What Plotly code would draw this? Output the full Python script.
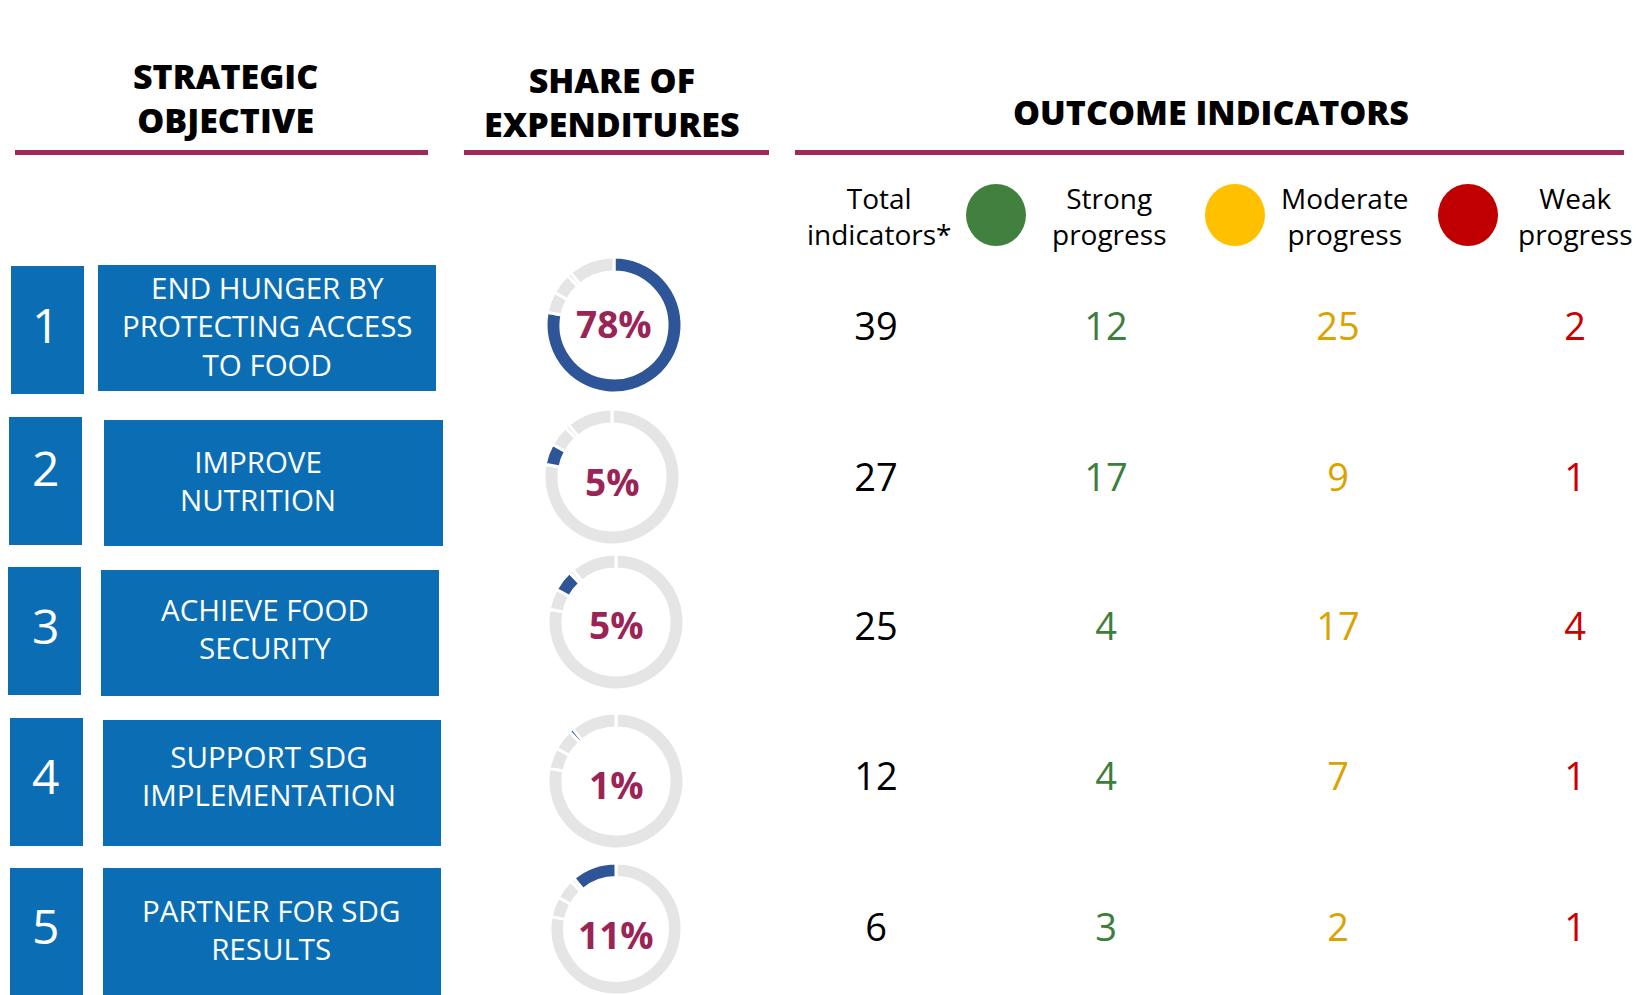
import plotly.graph_objects as go

# ---------------- data ----------------
objective_numbers = ["1", "2", "3", "4", "5"]
objectives = [
    ["END HUNGER BY", "PROTECTING ACCESS", "TO FOOD"],
    ["IMPROVE", "NUTRITION"],
    ["ACHIEVE FOOD", "SECURITY"],
    ["SUPPORT SDG", "IMPLEMENTATION"],
    ["PARTNER FOR SDG", "RESULTS"],
]
expenditure_share = [78, 5, 5, 1, 11]
total_indicators = [39, 27, 25, 12, 6]
strong_progress = [12, 17, 4, 4, 3]
moderate_progress = [25, 9, 17, 7, 2]
weak_progress = [2, 1, 4, 1, 1]

header_titles = [["STRATEGIC", "OBJECTIVE"], ["SHARE OF", "EXPENDITURES"], ["OUTCOME INDICATORS"]]
legend_labels = [["Total", "indicators*"], ["Strong", "progress"], ["Moderate", "progress"], ["Weak", "progress"]]

# ---------------- layout / style ----------------
W, H = 1641, 995
BLUE_BOX = "#0B6EB5"
DONUT_BLUE = "#2E5597"
DONUT_GREY = "#E5E5E5"
MAROON = "#9E2A5A"
PCT_COLOR = "#9B2457"
GREEN = "#41803F"
YELLOW = "#FFC000"
RED = "#C00000"
GREEN_TXT = "#3E7E3C"
YELLOW_TXT = "#D9A300"
RED_TXT = "#CC0000"
FONT = "Open Sans"

num_boxes = [(11, 84, 266, 394), (9, 82, 417, 545), (8, 81, 567, 695), (10, 83, 718, 846), (10, 83, 868, 1000)]
text_boxes = [(98, 436, 265, 391), (104, 443, 420, 546), (101, 439, 570, 696), (103, 441, 720, 846), (103, 441, 868, 1000)]
num_label_y = [324, 467, 625, 775, 925]
text_label_x = [267, 258, 265, 269, 271]
text_block_y = [326, 480.5, 628.5, 775.5, 929]
donut_centers = [(614, 325), (612, 477), (616, 622), (616, 781), (616, 931)]
pct_label_y = [323, 481, 624, 784, 934]
DONUT_R = 68
row_y = [330, 481, 630, 780, 931]
col_x = [876, 1106, 1338, 1575]

fig = go.Figure()

shapes = []
annotations = []


def label(x, y, lines, size, color, weight=None):
    if isinstance(lines, str):
        lines = [lines]
    f = dict(family=FONT, size=size, color=color)
    if weight:
        f["weight"] = weight
    annotations.append(dict(x=x, y=y, text="<br>".join(lines), showarrow=False, xanchor="center",
                            yanchor="middle", font=f))


# header titles and underlines
header_x = [225, 612, 1211]
header_y = [97.5, 102, 112]
underlines = [(15, 428), (464, 769), (795, 1624)]
for x, y, lines in zip(header_x, header_y, header_titles):
    label(x, y, lines, 34, "black", 800)
for x0, x1 in underlines:
    shapes.append(dict(type="rect", x0=x0, x1=x1, y0=150, y1=155, fillcolor=MAROON, line=dict(width=0)))

# legend row
legend_text_x = [879, 1109, 1345, 1575]
for x, lines in zip(legend_text_x, legend_labels):
    label(x, 216, lines, 28, "black")
for cx, c in zip([996, 1235, 1468], [GREEN, YELLOW, RED]):
    shapes.append(dict(type="circle", x0=cx - 30, x1=cx + 30, y0=215 - 31, y1=215 + 31,
                       fillcolor=c, line=dict(width=0)))

# left boxes
for i in range(5):
    x0, x1, y0, y1 = num_boxes[i]
    shapes.append(dict(type="rect", x0=x0, x1=x1, y0=y0, y1=y1, fillcolor=BLUE_BOX, line=dict(width=0), layer="below"))
    x0, x1, y0, y1 = text_boxes[i]
    shapes.append(dict(type="rect", x0=x0, x1=x1, y0=y0, y1=y1, fillcolor=BLUE_BOX, line=dict(width=0), layer="below"))
    label(45, num_label_y[i], objective_numbers[i], 48, "white")
    label(text_label_x[i], text_block_y[i], objectives[i], 29.5, "white")

# donuts
for i in range(5):
    cx, cy = donut_centers[i]
    dx = [(cx - DONUT_R) / W, (cx + DONUT_R) / W]
    dy = [max(0, 1 - (cy + DONUT_R) / H), min(1, 1 - (cy - DONUT_R) / H)]
    colors = [DONUT_BLUE if j == i else DONUT_GREY for j in range(5)]
    fig.add_trace(go.Pie(values=expenditure_share, labels=objective_numbers, sort=False,
                         direction="clockwise", rotation=0, hole=0.78,
                         marker=dict(colors=colors, line=dict(color="white", width=3)),
                         textinfo="none", hoverinfo="skip", showlegend=False,
                         domain=dict(x=dx, y=dy)))
    label(cx, pct_label_y[i], f"<b>{expenditure_share[i]}%</b>", 37, PCT_COLOR)

# indicator numbers
columns = [(total_indicators, "black"), (strong_progress, GREEN_TXT),
           (moderate_progress, YELLOW_TXT), (weak_progress, RED_TXT)]
for (vals, color), x in zip(columns, col_x):
    fig.add_trace(go.Scatter(x=[x] * len(vals), y=row_y, mode="text", text=[str(v) for v in vals],
                             textposition="middle center",
                             textfont=dict(family=FONT, size=38, color=color),
                             hoverinfo="skip", showlegend=False))

fig.update_layout(
    width=W, height=H, margin=dict(l=0, r=0, t=0, b=0),
    paper_bgcolor="white", plot_bgcolor="white",
    xaxis=dict(range=[0, W], visible=False, fixedrange=True),
    yaxis=dict(range=[H, 0], visible=False, fixedrange=True),
    shapes=shapes, annotations=annotations, showlegend=False,
)

fig.write_html("out.html", config=dict(displayModeBar=False),
               post_script="document.body.style.margin='0';")
